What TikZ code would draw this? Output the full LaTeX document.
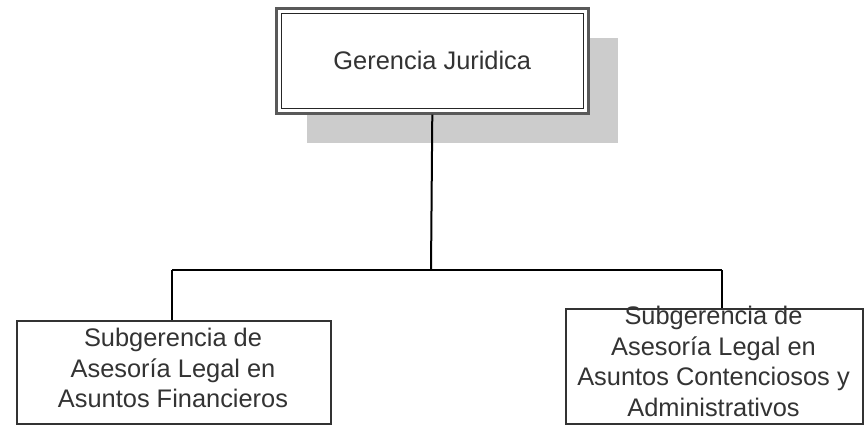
\documentclass[tikz,border=0pt]{standalone}
\usepackage{fontspec}
\setmainfont{Liberation Sans}
\begin{document}
\begin{tikzpicture}[x=1pt,y=-1pt,
  lbl/.style={align=center,inner sep=0pt,text=black!80,font=\fontsize{25.4}{30.5}\selectfont},
  unitbox/.style={draw=black!80,line width=1.8pt,fill=white,inner sep=0pt,anchor=north west},
  conn/.style={draw=black,line width=2pt}]
\useasboundingbox (0,0) rectangle (864,426);
% shadow of top box
\fill[black!20] (307,38) rectangle (618,143);
% top box, double border
\node[unitbox,draw=black!65,line width=2.6pt,minimum width=312pt,minimum height=105pt] (top) at (275,7) {};
\node[draw=black!85,line width=1.6pt,minimum width=302pt,minimum height=95pt,inner sep=0pt] (topin) at (top.center) {};
\node[lbl] (toptext) at (top.center) {Gerencia Juridica};
% lower boxes
\node[unitbox,minimum width=314pt,minimum height=103pt] (lbox) at (16,320) {};
\node[unitbox,minimum width=297pt,minimum height=115pt] (rbox) at (565,308) {};
\node[lbl] (ltext) at (173,368) {Subgerencia de\\Asesoría Legal en\\Asuntos Financieros};
\node[lbl] (rtext) at (713.5,361.5) {Subgerencia de\\Asesoría Legal en\\Asuntos Contenciosos y\\Administrativos};
% connectors
\coordinate (hM) at (431,270);
\coordinate (hL) at (172,270);
\coordinate (hR) at (722,270);
\draw[conn] (top.south) -- (hM);
\draw[conn] (hL) -- (hR);
\draw[conn] (hL) -- (hL |- lbox.north);
\draw[conn] (hR) -- (hR |- rbox.north);
\end{tikzpicture}
\end{document}
